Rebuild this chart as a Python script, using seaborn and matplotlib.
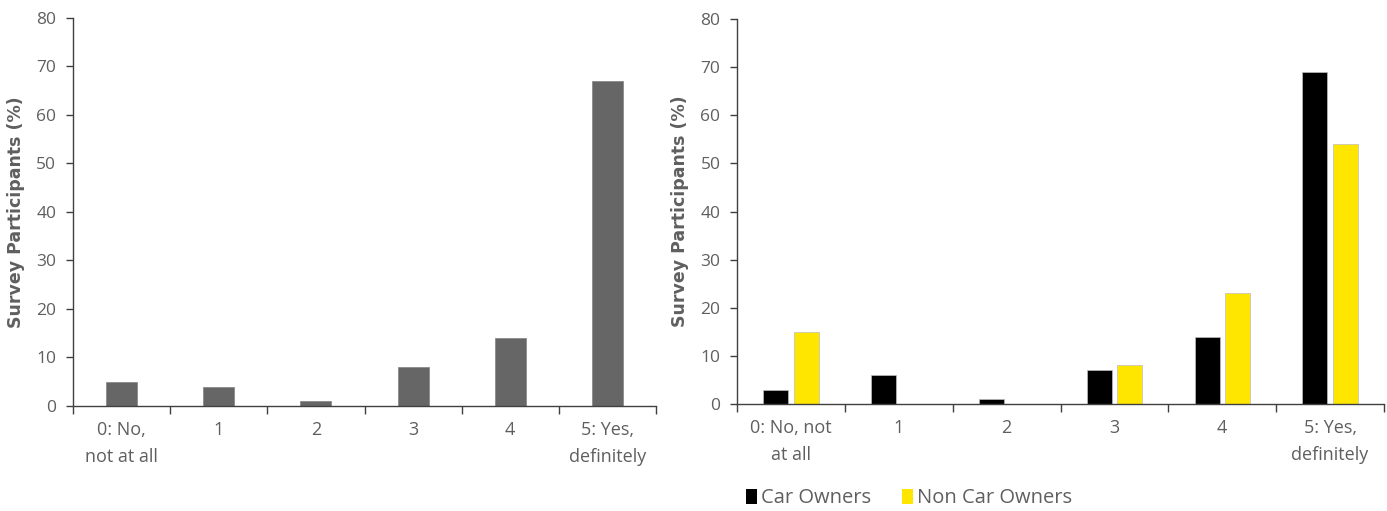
import matplotlib
matplotlib.use("Agg")
import matplotlib.pyplot as plt
import seaborn as sns
import pandas as pd
from matplotlib.patches import Patch

# Survey responses on a 0-5 scale
categories = ["0: No,\nnot at all", "1", "2", "3", "4", "5: Yes,\ndefinitely"]
categories_right = ["0: No, not\nat all", "1", "2", "3", "4", "5: Yes,\ndefinitely"]
all_participants = [5, 4, 1, 8, 14, 67]
car_owners = [3, 6, 1, 7, 14, 69]
non_car_owners = [15, 0, 0, 8, 23, 54]
series_names = ["Car Owners", "Non Car Owners"]
y_ticks = [0, 10, 20, 30, 40, 50, 60, 70, 80]

sns.set_theme(style="white")
plt.rcParams["font.family"] = ["Open Sans", "DejaVu Sans"]

TEXT = "#5f5f5f"
AXIS = "#404040"
GREY = "#666666"
BLACK = "#000000"
YELLOW = "#FFE600"

fig = plt.figure(figsize=(13.87, 5.11), dpi=100)
ax1 = fig.add_axes([0.0526, 0.2055, 0.4204, 0.7593])
ax2 = fig.add_axes([0.5314, 0.2094, 0.4664, 0.7534])

# Left panel: all participants
df1 = pd.DataFrame({"cat": categories, "val": all_participants})
sns.barplot(data=df1, x="cat", y="val", color=GREY, width=0.32,
            saturation=1, edgecolor="#8a8a8a", linewidth=0.6, ax=ax1)

# Right panel: car owners vs non car owners
df2 = pd.DataFrame({
    "cat": categories_right * 2,
    "val": car_owners + non_car_owners,
    "group": [series_names[0]] * 6 + [series_names[1]] * 6,
})
sns.barplot(data=df2, x="cat", y="val", hue="group",
            palette=[BLACK, YELLOW], width=0.56, gap=0.17,
            saturation=1, edgecolor="#bdbdbd", linewidth=0.5,
            legend=False, ax=ax2)

for ax, labels in ((ax1, categories), (ax2, categories_right)):
    ax.set_xlim(-0.5, 5.5)
    ax.set_ylim(0, 80)
    ax.set_yticks(y_ticks)
    ax.set_yticklabels([str(t) for t in y_ticks])
    ax.set_xticks(range(len(labels)))
    ax.set_xticklabels(labels, linespacing=1.65)
    ax.set_xticks([i - 0.5 for i in range(len(labels) + 1)], minor=True)
    ax.tick_params(axis="x", which="major", length=0, pad=11,
                   labelsize=13, labelcolor=TEXT)
    ax.tick_params(axis="x", which="minor", length=6, width=1,
                   color=AXIS, direction="out", bottom=True)
    ax.tick_params(axis="y", length=5, width=1, color=AXIS,
                   direction="out", left=True, labelsize=12.5,
                   labelcolor=TEXT, pad=7)
    ax.set_xlabel("")
    ax.set_ylabel("Survey Participants (%)", fontsize=12.5,
                  fontweight="bold", color=TEXT, labelpad=8,
                  family="DejaVu Sans")
    for side in ("top", "right"):
        ax.spines[side].set_visible(False)
    for side in ("left", "bottom"):
        ax.spines[side].set_color(AXIS)
        ax.spines[side].set_linewidth(1)

handles = [Patch(facecolor=BLACK, edgecolor="none"),
           Patch(facecolor=YELLOW, edgecolor="none")]
leg = fig.legend(handles, series_names, loc="lower left",
                 bbox_to_anchor=(0.525, -0.03), ncol=2, frameon=False,
                 fontsize=14.5, handlelength=0.55, handleheight=0.8,
                 handletextpad=0.2, columnspacing=1.5)
for t in leg.get_texts():
    t.set_color(TEXT)

fig.savefig("out.png", dpi=100)
